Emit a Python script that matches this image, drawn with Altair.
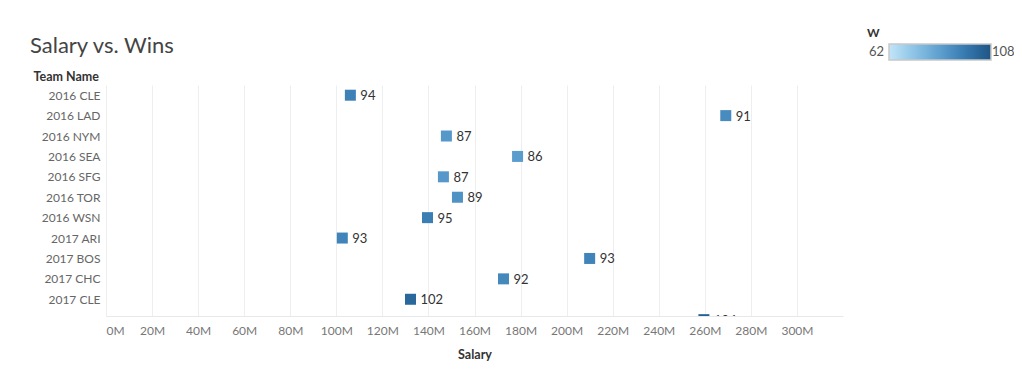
import altair as alt
import pandas as pd

# ---- data ----
teams = ["2016 CLE", "2016 LAD", "2016 NYM", "2016 SEA", "2016 SFG", "2016 TOR",
         "2016 WSN", "2017 ARI", "2017 BOS", "2017 CHC", "2017 CLE", "2017 LAD"]
salary_m = [106.1, 269.1, 147.8, 178.7, 146.5, 152.6, 139.6, 102.6, 210.0, 172.6, 132.2, 259.6]
wins = [94, 91, 87, 86, 87, 89, 95, 93, 93, 92, 102, 104]
w_range = [62, 108]
x_ticks_m = list(range(0, 301, 20))

df = pd.DataFrame({
    "Team Name": teams,
    "Salary": [s * 1e6 for s in salary_m],
    "W": wins,
    "row": list(range(len(teams))),
})

FONT = "Lato"
colors = ["#c2e5f8", "#8cc3e6", "#5d9fcf", "#3579b0", "#1e5585"]
n = len(colors) - 1
color_domain = [w_range[0] + (w_range[1] - w_range[0]) * i / n for i in range(n + 1)]

label_array = "[" + ",".join("'" + t + "'" for t in teams) + "]"

x_enc = alt.X(
    "Salary:Q",
    scale=alt.Scale(domain=[0, 320e6], nice=False, zero=True),
    axis=alt.Axis(
        values=[v * 1e6 for v in x_ticks_m],
        labelExpr="round(datum.value / 1e6) + 'M'",
        labelFlush=True,
        title="Salary",
        grid=True,
        gridColor="#eeeeee",
        ticks=False,
        domain=True,
        domainColor="#e8e8e8",
        labelPadding=9,
        labelFontSize=12,
        labelColor="#777777",
        labelFont=FONT,
        titleFont=FONT,
        titleFontSize=12.5,
        titleFontWeight="bold",
        titleColor="#333333",
        titlePadding=12,
    ),
)

y_enc = alt.Y(
    "row:Q",
    scale=alt.Scale(domain=[-0.5, 10.82], reverse=True, nice=False, zero=False),
    axis=alt.Axis(
        values=list(range(11)),
        labelExpr=label_array + "[datum.value]",
        title="Team Name",
        titleAngle=0,
        titleX=-73,
        titleY=-2,
        titleAlign="left",
        titleBaseline="bottom",
        titleFont=FONT,
        titleFontSize=12.5,
        titleFontWeight="bold",
        titleColor="#333333",
        grid=False,
        ticks=False,
        domain=False,
        labelPadding=6,
        labelFont=FONT,
        labelFontSize=12,
        labelColor="#666666",
    ),
)

color_enc = alt.Color(
    "W:Q",
    scale=alt.Scale(domain=color_domain, range=colors),
    legend=alt.Legend(
        orient="none",
        direction="horizontal",
        legendX=783,
        legendY=-41,
        title=None,
        gradientLength=102,
        gradientThickness=16,
        gradientStrokeColor="#c8c8c8",
        gradientStrokeWidth=1.5,
        labelOpacity=0,
        padding=0,
    ),
)

points = alt.Chart(df).mark_square(size=121, opacity=1, clip=True).encode(
    x=x_enc, y=y_enc, color=color_enc
)

labels = alt.Chart(df).mark_text(
    align="left", baseline="middle", dx=10, dy=1, fontSize=13, font=FONT, color="#333333", clip=True
).encode(x=x_enc, y=y_enc, text="W:Q")

leg_title = alt.Chart(pd.DataFrame({"t": ["W"]})).mark_text(
    align="left", baseline="middle", fontSize=12, font=FONT, fontWeight="bold", color="#333333"
).encode(x=alt.value(761), y=alt.value(-52), text="t:N")

leg_min = alt.Chart(pd.DataFrame({"v": [w_range[0]]})).mark_text(
    align="right", baseline="middle", fontSize=13, font=FONT, color="#555555"
).encode(x=alt.value(778), y=alt.value(-33), text="v:Q")

leg_max = alt.Chart(pd.DataFrame({"v": [w_range[1]]})).mark_text(
    align="left", baseline="middle", fontSize=13, font=FONT, color="#555555"
).encode(x=alt.value(886), y=alt.value(-33), text="v:Q")

chart = alt.layer(points, labels, leg_title, leg_min, leg_max).properties(
    width=737,
    height=231,
    autosize=alt.AutoSizeParams(type="none"),
    padding={"left": 98, "top": 77, "right": 171, "bottom": 45},
    title=alt.TitleParams(
        "Salary vs. Wins",
        anchor="start",
        fontSize=22,
        font=FONT,
        fontWeight="normal",
        color="#444444",
        dx=-3,
        dy=41,
        offset=10,
    ),
).configure_view(stroke=None)

chart.save("out.html", embed_options={"renderer": "svg", "actions": False})
